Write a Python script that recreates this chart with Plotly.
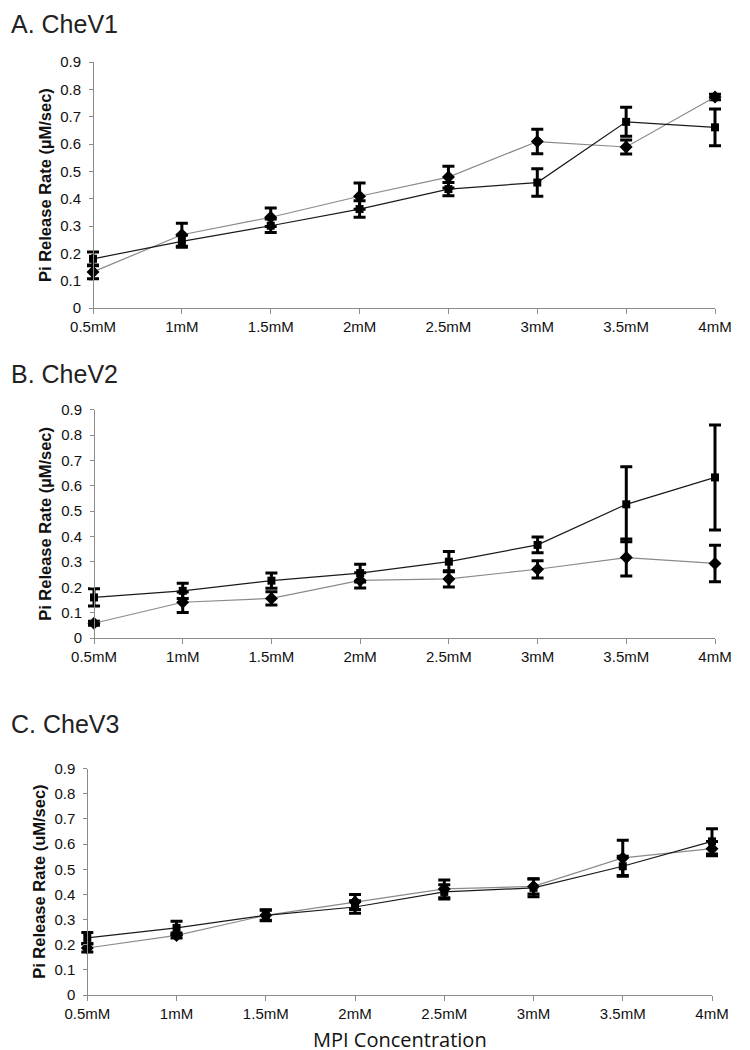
import plotly.graph_objects as go

concentrations = ["0.5mM", "1mM", "1.5mM", "2mM", "2.5mM", "3mM", "3.5mM", "4mM"]
y_ticks = [0, 0.1, 0.2, 0.3, 0.4, 0.5, 0.6, 0.7, 0.8, 0.9]

# Panel A: CheV1
chev1_square = [0.180, 0.244, 0.301, 0.362, 0.435, 0.459, 0.681, 0.661]
chev1_square_err = [0.025, 0.022, 0.025, 0.030, 0.024, 0.050, 0.053, 0.067]
chev1_diamond = [0.132, 0.268, 0.332, 0.409, 0.479, 0.609, 0.589, 0.772]
chev1_diamond_err = [0.025, 0.042, 0.034, 0.048, 0.040, 0.045, 0.026, 0.010]

# Panel B: CheV2
chev2_square = [0.160, 0.186, 0.226, 0.256, 0.301, 0.367, 0.527, 0.633]
chev2_square_err = [0.034, 0.030, 0.030, 0.035, 0.040, 0.031, 0.148, 0.207]
chev2_diamond = [0.058, 0.141, 0.156, 0.227, 0.233, 0.271, 0.317, 0.294]
chev2_diamond_err = [0.008, 0.040, 0.026, 0.030, 0.032, 0.034, 0.073, 0.072]

# Panel C: CheV3
chev3_square = [0.227, 0.267, 0.317, 0.350, 0.410, 0.426, 0.512, 0.611]
chev3_square_err = [0.022, 0.026, 0.022, 0.025, 0.028, 0.035, 0.040, 0.050]
chev3_diamond = [0.187, 0.237, 0.317, 0.370, 0.422, 0.432, 0.545, 0.582]
chev3_diamond_err = [0.016, 0.010, 0.020, 0.030, 0.035, 0.030, 0.070, 0.028]

panel_titles = ["A. CheV1", "B. CheV2", "C. CheV3"]
y_titles = ["Pi Release Rate (µM/sec)", "Pi Release Rate (µM/sec)", "Pi Release Rate (uM/sec)"]
x_title = "MPI Concentration"

W, H = 750, 1050
# pixel geometry of each panel: (left, right, top, bottom)
panels_px = [(85, 707, 54, 300), (86, 707, 401.7, 630), (79.3, 704, 760.7, 987)]
title_y_px = [16, 366, 716]
ytitle_x_px = [37, 37, 31]
PAD = 0.2  # extra category units so end error bars are not clipped

data = [
    (chev1_square, chev1_square_err, chev1_diamond, chev1_diamond_err),
    (chev2_square, chev2_square_err, chev2_diamond, chev2_diamond_err),
    (chev3_square, chev3_square_err, chev3_diamond, chev3_diamond_err),
]

FONT = "Arial, Liberation Sans, sans-serif"
fig = go.Figure()
xs = list(range(len(concentrations)))
ncat = len(concentrations) - 1

for i, (sq, sqe, dm, dme) in enumerate(data):
    n = "" if i == 0 else str(i + 1)
    xa, ya = "x" + n, "y" + n          # data axes (x padded, hidden)
    xv = "x" + str(i + 4)              # visible category axis
    l, r, t, b = panels_px[i]
    span = (r - l) / ncat

    # invisible helper trace so the visible x axis gets its subplot
    fig.add_trace(go.Scatter(x=[0, ncat], y=[0, 0], xaxis=xv, yaxis=ya, mode="lines",
                             line=dict(color="rgba(0,0,0,0)", width=1), hoverinfo="skip",
                             showlegend=False))
    for vals, errs, sym, size, lc in [(dm, dme, "diamond", 10, "#8a8a8a"),
                                      (sq, sqe, "square", 8, "#1a1a1a")]:
        fig.add_trace(go.Scatter(
            x=xs, y=vals, xaxis=xa, yaxis=ya, mode="lines+markers",
            line=dict(color=lc, width=1.2),
            marker=dict(symbol=sym, size=size, color="black"),
            error_y=dict(type="data", array=errs, visible=True, color="black",
                         thickness=3, width=6),
            cliponaxis=False, showlegend=False))

    xdom = [l / W, r / W]
    xdom_d = [(l - PAD * span) / W, (r + PAD * span) / W]
    ydom = [1 - b / H, 1 - t / H]
    axis_common = dict(showgrid=False, zeroline=False, showline=True, linecolor="#8c8c8c",
                       linewidth=1, ticks="outside", tickcolor="#8c8c8c", automargin=False,
                       tickfont=dict(family=FONT, size=15, color="#111"))
    fig.update_layout(**{
        ("xaxis" + n): dict(domain=xdom_d, range=[-PAD, ncat + PAD], visible=False,
                            anchor=ya, automargin=False, showgrid=False, zeroline=False),
        ("xaxis" + str(i + 4)): dict(domain=xdom, range=[0, ncat], tickvals=xs,
                                     ticktext=concentrations, ticklen=5, anchor=ya,
                                     ticklabelstandoff=0, **axis_common),
        ("yaxis" + n): dict(domain=ydom, range=[0, 0.9], tickvals=y_ticks,
                            ticktext=[("%g" % v) for v in y_ticks], ticklen=4,
                            anchor="free", position=l / W,
                            ticklabelstandoff=5, **axis_common),
    })
    fig.add_annotation(text=panel_titles[i], xref="paper", yref="paper", x=1 / W,
                       y=1 - title_y_px[i] / H, xanchor="left", yanchor="middle", showarrow=False,
                       font=dict(family=FONT, size=25, color="#222"))
    fig.add_annotation(text="<b>" + y_titles[i] + "</b>", xref="paper", yref="paper",
                       x=ytitle_x_px[i] / W, y=1 - (t + b) / 2 / H, textangle=-90,
                       xanchor="center", yanchor="middle", showarrow=False,
                       font=dict(family=FONT, size=16.5, color="#111"))

fig.add_annotation(text=x_title, xref="paper", yref="paper", x=392 / W, y=1 - 1031 / H,
                   xanchor="center", yanchor="middle", showarrow=False,
                   font=dict(family="Open Sans, sans-serif", size=20, color="#111"))

fig.update_layout(width=W, height=H, margin=dict(l=0, r=0, t=0, b=0),
                  paper_bgcolor="white", plot_bgcolor="rgba(0,0,0,0)", showlegend=False)

fig.write_html("out.html")
